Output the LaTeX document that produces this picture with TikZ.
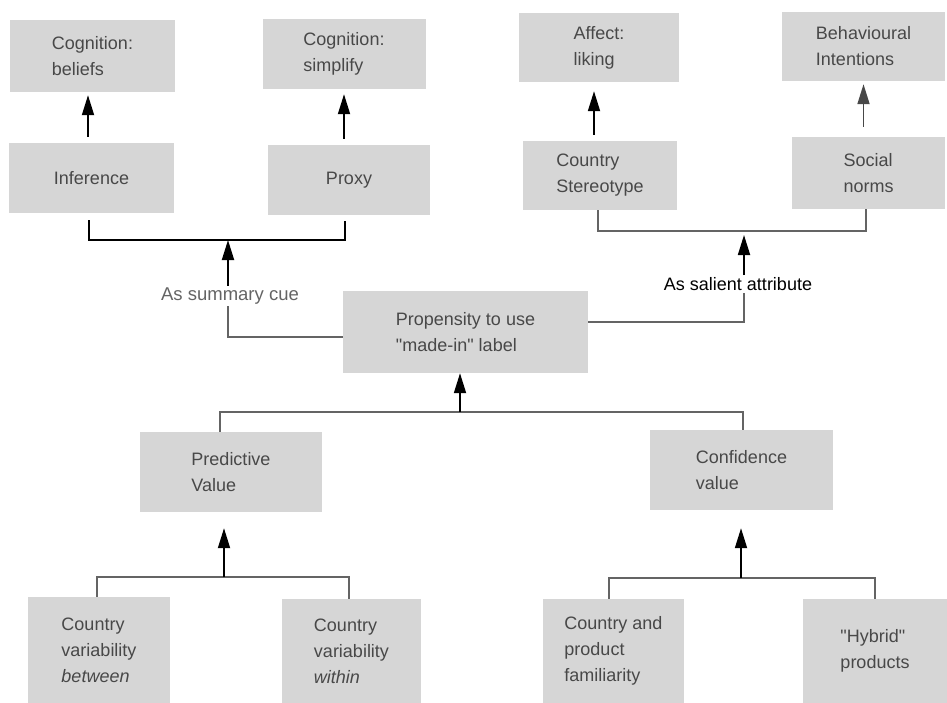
\documentclass[tikz,border=0pt]{standalone}
\usepackage{fontspec}
\setmainfont{Liberation Sans}
\usepackage{tikz}
\usetikzlibrary{arrows.meta,calc}

\definecolor{boxgray}{RGB}{214,214,214}
\definecolor{txtgray}{RGB}{72,72,72}
\definecolor{linegray}{RGB}{100,100,100}
\newcommand{\boxfont}{\fontsize{18}{26}\selectfont}

\tikzset{
    cbox/.style={fill=boxgray, text=txtgray, font=\boxfont, align=left, inner sep=0pt},
    darkline/.style={draw=black, line width=1.8pt},
    greyline/.style={draw=linegray, line width=1.2pt},
    uparrow/.style={-{Triangle[length=20pt,width=12pt]}, line width=1.8pt, draw=black}
}

\begin{document}
\begin{tikzpicture}[x=1pt, y=-1pt]
        \useasboundingbox (0,0) rectangle (947,702);

        \coordinate (xbel) at (92.5, 56);
        \coordinate (xsimp) at (344, 54);
        \coordinate (xinf) at (91.5, 178);
        \coordinate (xproxy) at (349, 180);
        \coordinate (xaff) at (599, 47.5);
        \coordinate (xbeh) at (863.5, 46.5);
        \coordinate (xstereo) at (600, 175.5);
        \coordinate (xnorms) at (868.5, 173);
        \coordinate (xprop) at (465.5, 332);
        \coordinate (xpred) at (231, 472);
        \coordinate (xconf) at (741.5, 470);
        \coordinate (xbetw) at (99, 650);
        \coordinate (xwith) at (351.5, 651);
        \coordinate (xfam) at (613.5, 651);
        \coordinate (xhyb) at (875, 651);

        % junction points of the brackets
        \coordinate (jcue) at (228, 240);
        \coordinate (jsal) at (744, 231);
        \coordinate (jmid) at (460, 412);
        \coordinate (jpred) at (224, 577);
        \coordinate (jconf) at (741, 578);

        \node[cbox, minimum width=165, minimum height=72] (nodebel) at (xbel) {Cognition:\\beliefs};
        \node[cbox, minimum width=163, minimum height=70] (nodesimp) at (xsimp) {Cognition:\\simplify};
        \node[cbox, minimum width=165, minimum height=70] (nodeinf) at (xinf) {Inference};
        \node[cbox, minimum width=162, minimum height=70] (nodeproxy) at (xproxy) {Proxy};
        \node[cbox, minimum width=160, minimum height=69] (nodeaff) at (xaff) {Affect:\\liking};
        \node[cbox, minimum width=163, minimum height=69] (nodebeh) at (xbeh) {Behavioural\\Intentions};
        \node[cbox, minimum width=154, minimum height=69] (nodestereo) at (xstereo) {Country\\Stereotype};
        \node[cbox, minimum width=153, minimum height=72] (nodenorms) at (xnorms) {Social\\norms};
        \node[cbox, minimum width=245, minimum height=82] (nodeprop) at (xprop) {Propensity to use\\\textquotedbl made-in\textquotedbl{} label\hspace{30pt}};
        \node[cbox, minimum width=182, minimum height=80] (nodepred) at (xpred) {Predictive\\Value};
        \node[cbox, minimum width=183, minimum height=80] (nodeconf) at (xconf) {Confidence\\value};
        \node[cbox, minimum width=142, minimum height=106] (nodebetw) at (xbetw) {Country\\variability\\\textit{between}};
        \node[cbox, minimum width=139, minimum height=104] (nodewith) at (xwith) {Country\\variability\\\textit{within}};
        \node[cbox, minimum width=141, minimum height=104] (nodefam) at (xfam) {Country and\\product\\familiarity};
        \node[cbox, minimum width=144, minimum height=104] (nodehyb) at (xhyb) {\textquotedbl Hybrid\textquotedbl\\products};

        \node[text=linegray, font=\fontsize{18.5}{22}\selectfont, inner sep=2pt] (nodecue) at (230, 296) {As summary cue};
        \node[text=black, font=\fontsize{18}{22}\selectfont, inner sep=2pt] (nodesal) at (738, 284) {As salient attribute};

        % top left
        \draw[uparrow, shorten <=6pt, shorten >=3pt] (nodeinf.north -| 88,0) -- (nodebel.south -| 88,0);
        \draw[uparrow, shorten <=6pt, shorten >=5pt] (nodeproxy.north -| xsimp) -- (nodesimp.south);
        \draw[darkline] ([yshift=-7pt]nodeinf.south -| 89,0) |- (jcue) -| ([yshift=-6pt]nodeproxy.south -| 345,0);
        \draw[uparrow] (nodecue.north -| jcue) -- (jcue);
        \draw[greyline] ([yshift=-5pt]nodeprop.west) -| (nodecue.south -| jcue);

        % top right
        \draw[uparrow, shorten <=6pt, shorten >=9pt] (nodestereo.north -| 594,0) -- (nodeaff.south -| 594,0);
        \draw[uparrow, draw=txtgray, shorten <=10pt, shorten >=3pt] (nodenorms.north -| xbeh) -- (nodebeh.south);
        \draw[greyline] (nodestereo.south -| 598,0) |- (jsal) -| (nodenorms.south -| 866,0);
        \draw[uparrow, shorten >=4pt] (nodesal.north -| jsal) -- (jsal);
        \draw[greyline] ([yshift=10pt]nodeprop.east) -| (nodesal.south -| jsal);

        % middle
        \draw[greyline] (nodepred.north -| 220,0) |- (jmid) -| (nodeconf.north -| 743,0);
        \draw[uparrow] (jmid) -- (jmid |- nodeprop.south);

        % bottom
        \draw[greyline] (nodebetw.north -| 97,0) |- (jpred) -| (nodewith.north -| 349,0);
        \draw[uparrow, shorten >=16pt] (jpred) -- (jpred |- nodepred.south);
        \draw[greyline] (nodefam.north -| 609,0) |- (jconf) -| (nodehyb.north -| 875,0);
        \draw[uparrow, shorten >=18pt] (jconf) -- (jconf |- nodeconf.south);
    \end{tikzpicture}
\end{document}
